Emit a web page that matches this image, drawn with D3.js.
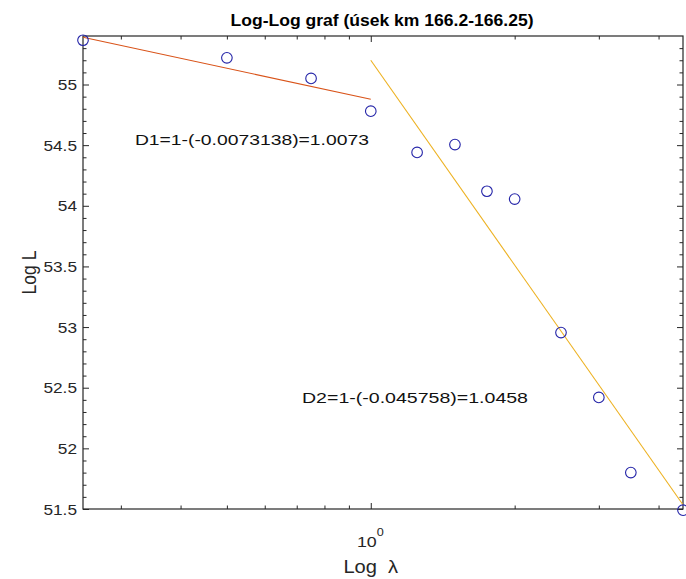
<!DOCTYPE html>
<html><head><meta charset="utf-8">
<script src="https://cdn.jsdelivr.net/npm/d3@7"></script>
<style>body{margin:0;background:#fff}svg{display:block}text{font-family:Arial,"Liberation Sans",Helvetica,sans-serif;white-space:pre}</style>
</head><body>
<svg id="c" width="686" height="579"></svg>
<script>
// ---- data ----
const lambda = [0.25, 0.5, 0.75, 1, 1.25, 1.5, 1.75, 2, 2.5, 3, 3.5, 4.5];
const logL   = [55.365, 55.22, 55.05, 54.78, 54.44, 54.505, 54.12, 54.055, 52.955, 52.42, 51.80, 51.49];
const fit1X = [0.25, 1];
const fit1Y = [55.39, 54.878];
const fit2X = [1, 4.5];
const fit2Y = [55.20, 51.535];
const yTicks = [51.5, 52, 52.5, 53, 53.5, 54, 54.5, 55];
const yTickLabels = ["51.5", "52", "52.5", "53", "53.5", "54", "54.5", "55"];
const xMajor = [1];
const xMinor = [0.3, 0.4, 0.5, 0.6, 0.7, 0.8, 0.9, 2, 3, 4];
const titleText = "Log-Log graf (úsek km 166.2-166.25)";
const xLabel = "Log  λ";
const yLabel = "Log L";
const notes = [
  {x: 0.321, y: 54.55, t: "D1=1-(-0.0073138)=1.0073", w: 234},
  {x: 0.718, y: 52.42, t: "D2=1-(-0.045758)=1.0458", w: 226}
];

// ---- layout ----
const L = 83, R = 683, T = 36, B = 509;
const SX = 1.15; // horizontal stretch of the original picture
const svg = d3.select("#c");
svg.append("rect").attr("width", 686).attr("height", 579).attr("fill", "#fff");

const x = d3.scaleLog().domain([0.25, 4.5]).range([L, R]);
const y = d3.scaleLinear().domain([51.5, 55.4]).range([B, T]);
const axisCol = "#262626";

function txt(px, py, s, o = {}) {
  const t = svg.append("text")
    .attr("transform", `translate(${px},${py}) scale(${o.sx || SX},1)` + (o.rot ? ` rotate(${o.rot})` : ""))
    .attr("font-size", o.size || 15)
    .attr("fill", o.fill || axisCol)
    .attr("text-anchor", o.anchor || "start")
    .attr("dominant-baseline", o.base || "auto")
    .attr("font-weight", o.weight || "normal")
    .attr("xml:space", "preserve")
    .text(s);
  return t;
}

const g = svg.append("g");
const yMinor = d3.range(51.6, 55.4, 0.1).map(v => +v.toFixed(1)).filter(v => Math.abs(v * 2 - Math.round(v * 2)) > 1e-6);
const tickMaj = 6, tickMin = 3.5;

g.append("g").attr("transform", `translate(${L},0)`).call(d3.axisLeft(y).tickValues(yTicks).tickSize(-tickMaj).tickFormat(""));
g.append("g").attr("transform", `translate(${L},0)`).call(d3.axisLeft(y).tickValues(yMinor).tickSize(-tickMin).tickFormat(""));
g.append("g").attr("transform", `translate(${R},0)`).call(d3.axisRight(y).tickValues(yTicks).tickSize(-tickMaj).tickFormat(""));
g.append("g").attr("transform", `translate(${R},0)`).call(d3.axisRight(y).tickValues(yMinor).tickSize(-tickMin).tickFormat(""));
g.append("g").attr("transform", `translate(0,${B})`).call(d3.axisBottom(x).tickValues(xMajor).tickSize(-tickMaj).tickFormat(""));
g.append("g").attr("transform", `translate(0,${B})`).call(d3.axisBottom(x).tickValues(xMinor).tickSize(-tickMin).tickFormat(""));
g.append("g").attr("transform", `translate(0,${T})`).call(d3.axisTop(x).tickValues(xMajor).tickSize(-tickMaj).tickFormat(""));
g.append("g").attr("transform", `translate(0,${T})`).call(d3.axisTop(x).tickValues(xMinor).tickSize(-tickMin).tickFormat(""));
g.selectAll(".domain").remove();
g.selectAll(".tick line").attr("stroke", axisCol).attr("stroke-width", 1);
g.append("rect").attr("x", L).attr("y", T).attr("width", R - L).attr("height", B - T)
  .attr("fill", "none").attr("stroke", axisCol).attr("stroke-width", 1.2);

// y tick labels
yTicks.forEach((v, i) => txt(L - 6, y(v), yTickLabels[i], {anchor: "end", base: "central", size: 15}));
// x tick label 10^0
xMajor.forEach(v => {
  txt(x(v) + 6, B + 38, "10", {anchor: "end", size: 15.5});
  txt(x(v) + 6, B + 27, "0", {anchor: "start", size: 11});
});

// fit lines
const line = d3.line().x(d => x(d[0])).y(d => y(d[1]));
svg.append("path").datum(d3.zip(fit1X, fit1Y)).attr("d", line)
  .attr("fill", "none").attr("stroke", "#D95319").attr("stroke-width", 1.1);
svg.append("path").datum(d3.zip(fit2X, fit2Y)).attr("d", line)
  .attr("fill", "none").attr("stroke", "#EDB120").attr("stroke-width", 1.1);

// points
svg.append("g").selectAll("circle").data(d3.zip(lambda, logL)).join("circle")
  .attr("cx", d => x(d[0])).attr("cy", d => y(d[1])).attr("r", 5.3)
  .attr("fill", "none").attr("stroke", "#2424a8").attr("stroke-width", 1.1);

// annotations
notes.forEach(n => {
  txt(x(n.x), y(n.y), n.t, {base: "central", size: 15, fill: "#111", sx: 1})
    .attr("textLength", n.w).attr("lengthAdjust", "spacingAndGlyphs");
});

// labels
txt(382, 26, titleText, {anchor: "middle", size: 17, weight: "bold", fill: "#000", sx: 1})
  .attr("textLength", 303).attr("lengthAdjust", "spacingAndGlyphs");
txt(x(1), 573, xLabel, {anchor: "middle", size: 17.5});
txt(36, (T + B) / 2, yLabel, {anchor: "middle", size: 17.5, rot: -90});
</script>
</body></html>
